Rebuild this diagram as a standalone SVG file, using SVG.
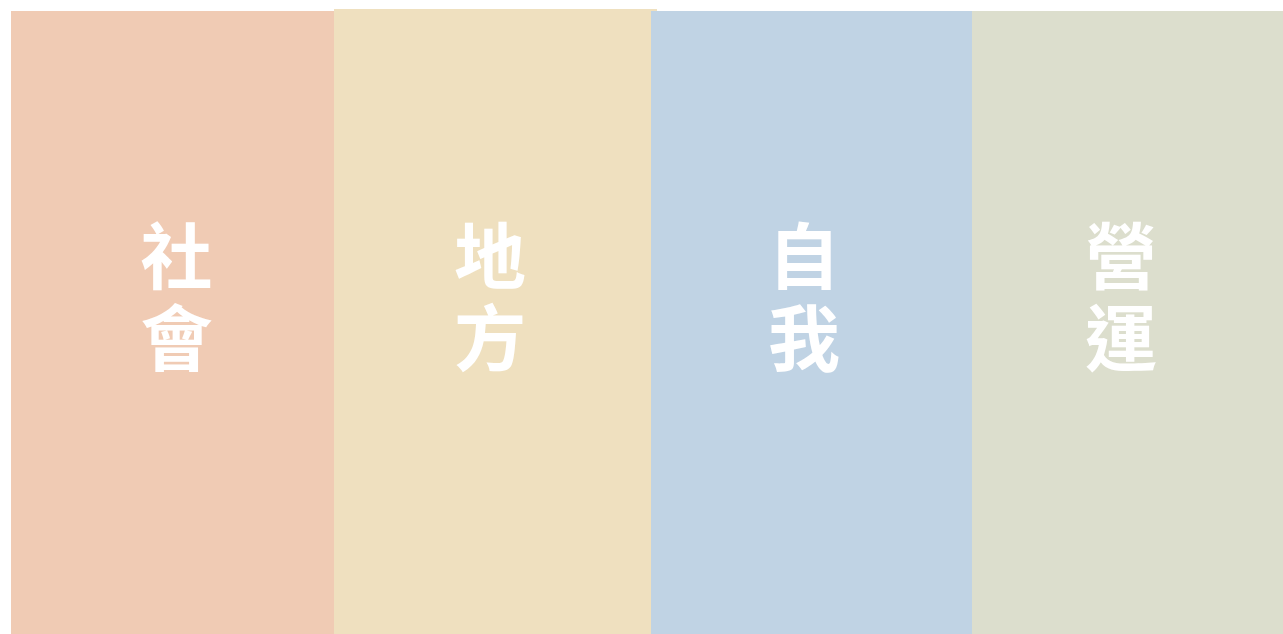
<svg xmlns="http://www.w3.org/2000/svg" width="1283" height="634" viewBox="0 0 1283 634">
<style>
.t{font-family:"Noto Sans CJK TC","Noto Sans CJK SC",sans-serif;font-weight:bold;font-size:72px;fill:#ffffff;text-anchor:middle}
</style>
<rect width="1283" height="634" fill="#ffffff"/>
<g id="col-social"><rect x="11" y="11" width="323" height="623" fill="#F0CBB4"/><text class="t" x="176.5" y="283"><tspan x="176.5">社</tspan><tspan x="176.5" dy="82">會</tspan></text></g>
<g id="col-local"><rect x="334" y="9" width="323" height="625" fill="#EFE0BF"/><text class="t" x="490" y="283"><tspan x="490">地</tspan><tspan x="490" dy="82">方</tspan></text></g>
<g id="col-self"><rect x="651" y="11" width="321" height="623" fill="#C0D3E4"/><text class="t" x="804" y="283"><tspan x="804">自</tspan><tspan x="804" dy="82">我</tspan></text></g>
<g id="col-operation"><rect x="972" y="11" width="311" height="623" fill="#DCDECD"/><text class="t" x="1121" y="283"><tspan x="1121">營</tspan><tspan x="1121" dy="82">運</tspan></text></g>
<g id="connectors"/>
</svg>
